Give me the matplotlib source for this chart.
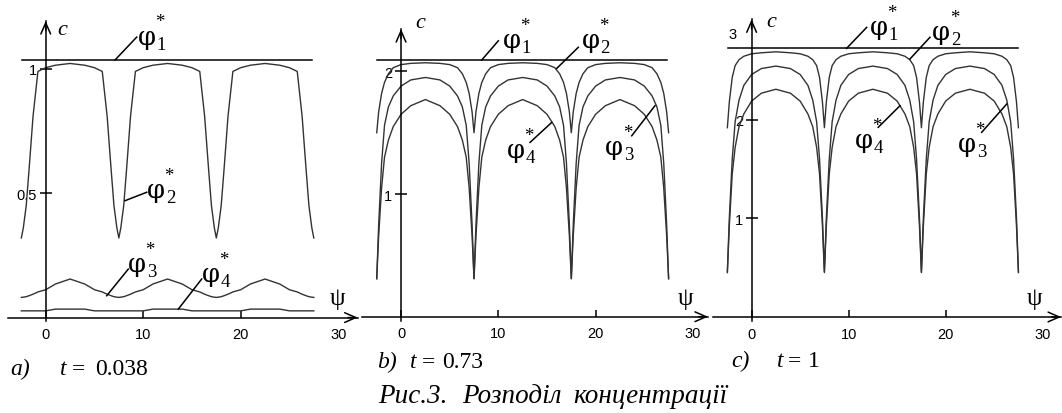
import matplotlib.pyplot as plt

# psi sample points (shared by every curve, three arches of period 10)
psi = [-2.5, -2.3, -2.0, -1.7, -1.3, -0.8, 0.0, 1.0, 2.5, 4.0, 5.0, 5.8, 6.3, 6.7, 7.0, 7.3, 7.5,
       7.7, 8.0, 8.3, 8.7, 9.2, 10.0, 11.0, 12.5, 14.0, 15.0, 15.8, 16.3, 16.7, 17.0, 17.3, 17.5,
       17.7, 18.0, 18.3, 18.7, 19.2, 20.0, 21.0, 22.5, 24.0, 25.0, 25.8, 26.3, 26.7, 27.0, 27.3, 27.5]

# a) t = 0.038
a_phi1_psi = [-2.45, 27.3]
a_phi1 = [1.036, 1.036]
a_phi2 = [0.32, 0.36, 0.45, 0.60, 0.81, 0.99, 1.005, 1.015, 1.022, 1.015, 1.005, 0.99, 0.81, 0.60, 0.45, 0.36, 0.32,
          0.36, 0.45, 0.60, 0.81, 0.99, 1.005, 1.015, 1.022, 1.015, 1.005, 0.99, 0.81, 0.60, 0.45, 0.36, 0.32,
          0.36, 0.45, 0.60, 0.81, 0.99, 1.005, 1.015, 1.022, 1.015, 1.005, 0.99, 0.81, 0.60, 0.45, 0.36, 0.32]
a_phi3 = [0.081, 0.082, 0.084, 0.088, 0.094, 0.103, 0.112, 0.135, 0.155, 0.135, 0.112, 0.103, 0.094, 0.088, 0.084, 0.082, 0.081,
          0.082, 0.084, 0.088, 0.094, 0.103, 0.112, 0.135, 0.155, 0.135, 0.112, 0.103, 0.094, 0.088, 0.084, 0.082, 0.081,
          0.082, 0.084, 0.088, 0.094, 0.103, 0.112, 0.135, 0.155, 0.135, 0.112, 0.103, 0.094, 0.088, 0.084, 0.082, 0.081]
a_phi4 = [0.027, 0.027, 0.027, 0.027, 0.027, 0.027, 0.027, 0.034, 0.034, 0.034, 0.027, 0.027, 0.027, 0.027, 0.027, 0.027, 0.027,
          0.027, 0.027, 0.027, 0.027, 0.027, 0.027, 0.034, 0.034, 0.034, 0.027, 0.027, 0.027, 0.027, 0.027, 0.027, 0.027,
          0.027, 0.027, 0.027, 0.027, 0.027, 0.027, 0.034, 0.034, 0.034, 0.027, 0.027, 0.027, 0.027, 0.027, 0.027, 0.027]

# b) t = 0.73
b_phi1_psi = [-2.5, 27.3]
b_phi1 = [2.09, 2.09]
b_phi2 = [1.50, 1.67, 1.82, 1.91, 1.98, 2.03, 2.055, 2.065, 2.07, 2.065, 2.055, 2.03, 1.98, 1.91, 1.82, 1.67, 1.50,
          1.67, 1.82, 1.91, 1.98, 2.03, 2.055, 2.065, 2.07, 2.065, 2.055, 2.03, 1.98, 1.91, 1.82, 1.67, 1.50,
          1.67, 1.82, 1.91, 1.98, 2.03, 2.055, 2.065, 2.07, 2.065, 2.055, 2.03, 1.98, 1.91, 1.82, 1.67, 1.50]
b_phi3 = [0.31, 0.75, 1.25, 1.56, 1.71, 1.80, 1.88, 1.93, 1.95, 1.93, 1.88, 1.80, 1.71, 1.56, 1.25, 0.75, 0.31,
          0.75, 1.25, 1.56, 1.71, 1.80, 1.88, 1.93, 1.95, 1.93, 1.88, 1.80, 1.71, 1.56, 1.25, 0.75, 0.31,
          0.75, 1.25, 1.56, 1.71, 1.80, 1.88, 1.93, 1.95, 1.93, 1.88, 1.80, 1.71, 1.56, 1.25, 0.75, 0.31]
b_phi4 = [0.31, 0.66, 1.05, 1.30, 1.44, 1.55, 1.65, 1.72, 1.77, 1.72, 1.65, 1.55, 1.44, 1.30, 1.05, 0.66, 0.31,
          0.66, 1.05, 1.30, 1.44, 1.55, 1.65, 1.72, 1.77, 1.72, 1.65, 1.55, 1.44, 1.30, 1.05, 0.66, 0.31,
          0.66, 1.05, 1.30, 1.44, 1.55, 1.65, 1.72, 1.77, 1.72, 1.65, 1.55, 1.44, 1.30, 1.05, 0.66, 0.31]

# c) t = 1
c_phi1_psi = [-2.4, 27.5]
c_phi1 = [2.73, 2.73]
c_phi2 = [1.92, 2.18, 2.43, 2.55, 2.61, 2.645, 2.67, 2.68, 2.69, 2.68, 2.67, 2.645, 2.61, 2.55, 2.43, 2.18, 1.92,
          2.18, 2.43, 2.55, 2.61, 2.645, 2.67, 2.68, 2.69, 2.68, 2.67, 2.645, 2.61, 2.55, 2.43, 2.18, 1.92,
          2.18, 2.43, 2.55, 2.61, 2.645, 2.67, 2.68, 2.69, 2.68, 2.67, 2.645, 2.61, 2.55, 2.43, 2.18, 1.92]
c_phi3 = [0.46, 1.00, 1.60, 1.98, 2.20, 2.35, 2.46, 2.52, 2.545, 2.52, 2.46, 2.35, 2.20, 1.98, 1.60, 1.00, 0.46,
          1.00, 1.60, 1.98, 2.20, 2.35, 2.46, 2.52, 2.545, 2.52, 2.46, 2.35, 2.20, 1.98, 1.60, 1.00, 0.46,
          1.00, 1.60, 1.98, 2.20, 2.35, 2.46, 2.52, 2.545, 2.52, 2.46, 2.35, 2.20, 1.98, 1.60, 1.00, 0.46]
c_phi4 = [0.45, 0.92, 1.45, 1.72, 1.93, 2.06, 2.19, 2.27, 2.31, 2.27, 2.19, 2.06, 1.93, 1.72, 1.45, 0.92, 0.45,
          0.92, 1.45, 1.72, 1.93, 2.06, 2.19, 2.27, 2.31, 2.27, 2.19, 2.06, 1.93, 1.72, 1.45, 0.92, 0.45,
          0.92, 1.45, 1.72, 1.93, 2.06, 2.19, 2.27, 2.31, 2.27, 2.19, 2.06, 1.93, 1.72, 1.45, 0.92, 0.45]

x_ticks = [0, 10, 20, 30]
x_ticklabels = ['0', '10', '20', '30']

SERIF = 'Liberation Serif'
SANS = 'Liberation Sans'
CURVE = '#333333'


def setup_axes(ax, xlim, ylim, x_from, x_to, y_from, y_to, yticks, ylabels):
    ax.set_xlim(xlim)
    ax.set_ylim(ylim)
    ax.patch.set_visible(False)
    ax.spines['top'].set_visible(False)
    ax.spines['right'].set_visible(False)
    ax.spines['left'].set_position(('data', 0))
    ax.spines['bottom'].set_position(('data', 0))
    ax.spines['left'].set_bounds(y_from, y_to)
    ax.spines['bottom'].set_bounds(x_from, x_to)
    ax.spines['left'].set_linewidth(1.1)
    ax.spines['bottom'].set_linewidth(1.1)
    ax.set_xticks(x_ticks)
    ax.set_xticklabels(x_ticklabels, family=SANS, fontsize=10.5)
    ax.set_yticks(yticks)
    ax.set_yticklabels(ylabels, family=SANS, fontsize=10.5)
    ax.tick_params(axis='x', direction='in', length=5, width=1.1, pad=7)
    ax.tick_params(axis='y', direction='inout', length=8.5, width=1.1, pad=2)
    ax.xaxis.get_major_ticks()[-1].tick1line.set_visible(False)
    head = '->,head_length=0.8,head_width=0.35'
    ax.annotate('', xy=(x_to, 0), xytext=(x_to - 1.0, 0),
                arrowprops=dict(arrowstyle=head, lw=1.1, color='k', shrinkA=0, shrinkB=0))
    dy = (ylim[1] - ylim[0]) * 0.03
    ax.annotate('', xy=(0, y_to), xytext=(0, y_to - dy),
                arrowprops=dict(arrowstyle=head, lw=1.1, color='k', shrinkA=0, shrinkB=0))


def phi_label(ax, start, end, pos, idx):
    ax.plot([start[0], end[0]], [start[1], end[1]], color='k', lw=1.1)
    ax.text(pos[0], pos[1], '\u03c6', family='DejaVu Serif', fontsize=18.5, va='baseline', ha='left')
    ax.annotate(idx, xy=pos, xytext=(13.5, -3.6), textcoords='offset points',
                family=SERIF, fontsize=13.5, va='baseline', ha='left')
    ax.annotate('*', xy=pos, xytext=(16, 12.5), textcoords='offset points',
                family=SERIF, fontsize=13.5, va='baseline', ha='center')


fig = plt.figure(figsize=(10.62, 4.14), dpi=100)

# ---- panel a ----
ax = fig.add_axes([0.0, 0.2029, 0.3390, 0.7729])
setup_axes(ax, (-4.69, 32.24), (-0.046, 1.241), -3.84, 32.0, -0.014, 1.193,
           [0.5, 1], ['0.5', '1'])
ax.plot(a_phi1_psi, a_phi1, color='k', lw=1.1)
ax.plot(psi, a_phi2, color=CURVE, lw=1.0)
ax.plot(psi, a_phi3, color=CURVE, lw=1.0)
ax.plot(psi, a_phi4, color=CURVE, lw=1.0)
phi_label(ax, (7.11, 1.036), (9.33, 1.128), (9.47, 1.101), '1')
phi_label(ax, (8.13, 0.47), (10.36, 0.504), (10.39, 0.485), '2')
phi_label(ax, (6.26, 0.088), (8.47, 0.195), (8.44, 0.187), '3')
phi_label(ax, (13.6, 0.034), (16.0, 0.155), (16.0, 0.147), '4')
ax.text(1.16, 1.141, 'c', family=SERIF, style='italic', fontsize=16, va='baseline')
ax.text(29.16, 0.054, '\u03c8', family=SERIF, fontsize=18, va='baseline')

# ---- panel b ----
ax = fig.add_axes([0.3343, 0.2029, 0.3343, 0.7729])
setup_axes(ax, (-4.73, 31.76), (-0.100, 2.508), -4.04, 31.55, -0.035, 2.345,
           [1, 2], ['1', '2'])
ax.plot(b_phi1_psi, b_phi1, color='k', lw=1.1)
ax.plot(psi, b_phi2, color=CURVE, lw=1.0)
ax.plot(psi, b_phi3, color=CURVE, lw=1.0)
ax.plot(psi, b_phi4, color=CURVE, lw=1.0)
phi_label(ax, (8.29, 2.092), (10.0, 2.249), (10.48, 2.198), '1')
phi_label(ax, (16.0, 2.024), (18.22, 2.196), (18.57, 2.198), '2')
phi_label(ax, (15.49, 1.584), (13.26, 1.421), (10.86, 1.302), '4')
phi_label(ax, (26.1, 1.72), (23.71, 1.475), (20.97, 1.326), '3')
ax.text(1.44, 2.361, 'c', family=SERIF, style='italic', fontsize=16, va='baseline')
ax.text(28.47, 0.104, '\u03c8', family=SERIF, fontsize=18, va='baseline')

# ---- panel c ----
ax = fig.add_axes([0.6638, 0.2029, 0.3362, 0.7729])
setup_axes(ax, (-4.81, 31.99), (-0.122, 3.124), -3.96, 31.9, -0.04, 3.02,
           [1, 2], ['1', '2'])
ax.plot(c_phi1_psi, c_phi1, color='k', lw=1.1)
ax.plot(psi, c_phi2, color=CURVE, lw=1.0)
ax.plot(psi, c_phi3, color=CURVE, lw=1.0)
ax.plot(psi, c_phi4, color=CURVE, lw=1.0)
phi_label(ax, (9.79, 2.725), (11.86, 2.938), (12.2, 2.87), '1')
phi_label(ax, (16.32, 2.617), (18.38, 2.837), (18.6, 2.82), '2')
phi_label(ax, (15.29, 2.143), (13.05, 1.924), (10.65, 1.724), '4')
phi_label(ax, (26.29, 2.16), (23.71, 1.873), (21.27, 1.684), '3')
ax.text(-1.6, 2.87, '3', family=SANS, fontsize=10.5, va='center', ha='right')
ax.text(1.55, 2.951, 'c', family=SERIF, style='italic', fontsize=16, va='baseline')
ax.text(28.35, 0.132, '\u03c8', family=SERIF, fontsize=18, va='baseline')

# ---- captions ----
cap = dict(family=SERIF, fontsize=17)
fig.text(0.0094, 0.0942, 'a)', style='italic', **cap)
fig.text(0.0565, 0.0942, 't', style='italic', **cap)
fig.text(0.0678, 0.0942, '=', **cap)
fig.text(0.0895, 0.0942, '0.038', **cap)
fig.text(0.3547, 0.1111, 'b)', style='italic', **cap)
fig.text(0.3861, 0.1111, 't', style='italic', **cap)
fig.text(0.3971, 0.1111, '=', **cap)
fig.text(0.4159, 0.1111, '0.73', **cap)
fig.text(0.6890, 0.1143, 'c)', style='italic', **cap)
fig.text(0.7313, 0.1143, 't', style='italic', **cap)
fig.text(0.7420, 0.1143, '=', **cap)
fig.text(0.7608, 0.1143, '1', **cap)
title = dict(family=SERIF, style='italic', fontsize=19.5)
fig.text(0.3559, 0.0254, 'Рис.3.', **title)
fig.text(0.4350, 0.0254, 'Розподіл', **title)
fig.text(0.5395, 0.0254, 'концентрації', **title)

fig.savefig('out.png', dpi=100, facecolor='white')
